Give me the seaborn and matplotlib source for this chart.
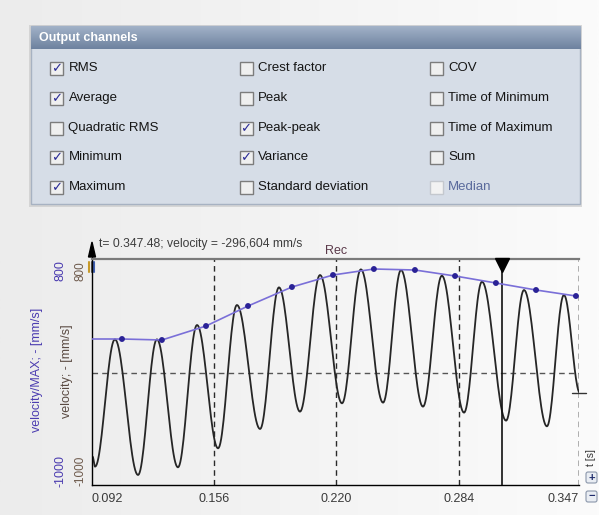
import numpy as np
import pandas as pd
import matplotlib
matplotlib.use("Agg")
import matplotlib.pyplot as plt
import matplotlib.patches as mpatches
import matplotlib.transforms as mtransforms
from matplotlib.colors import LinearSegmentedColormap
from matplotlib.ticker import FixedLocator, MultipleLocator
import seaborn as sns

# output channel checkboxes (3 columns)
col1_labels = ["RMS", "Average", "Quadratic RMS", "Minimum", "Maximum"]
col1_checked = [1, 1, 0, 1, 1]
col2_labels = ["Crest factor", "Peak", "Peak-peak", "Variance", "Standard deviation"]
col2_checked = [0, 0, 1, 1, 0]
col3_labels = ["COV", "Time of Minimum", "Time of Maximum", "Sum", "Median"]
col3_checked = [0, 0, 0, 0, 0]
col3_enabled = [1, 1, 1, 1, 0]

# velocity signal: read-off peaks / troughs (t in s, mm/s)
ext_t = [0.0923, 0.0936, 0.1040, 0.1161, 0.1260, 0.1370, 0.1470, 0.1580, 0.1679,
         0.1800, 0.1899, 0.2009, 0.2114, 0.2229, 0.2328, 0.2444, 0.2538, 0.2653,
         0.2752, 0.2868, 0.2962, 0.3088, 0.3182, 0.3302, 0.3391, 0.3475]
ext_v = [-871, -961, 185, -1036, 185, -967, 314, -796, 494, -622, 653, -466, 764,
         -391, 815, -385, 809, -421, 758, -475, 704, -547, 629, -598, 584, -297]

# velocity/MAX channel
max_t = [0.092, 0.1077, 0.1286, 0.1517, 0.1737, 0.1967, 0.2182, 0.2396, 0.2611,
         0.2821, 0.3035, 0.3245, 0.3454]
max_v = [188, 188, 179, 305, 485, 656, 764, 818, 809, 755, 692, 629, 575]

x_ticks = [0.092, 0.156, 0.220, 0.284, 0.347]
x_ticklabels = ["0.092", "0.156", "0.220", "0.284", "0.347"]
y_ticks = [-1000, 800]
cursor_t = 0.3067
cursor_v = -296.6
zero_line = -118

sns.set_style("white")
plt.rcParams["font.family"] = ["Liberation Sans", "DejaVu Sans"]

# draw the signal between the read extremes as half-cosine arcs
wt, wv = [], []
for i in range(len(ext_t) - 1):
    s = np.linspace(0, 1, 25)
    wt.extend(ext_t[i] + (ext_t[i + 1] - ext_t[i]) * s)
    wv.extend(ext_v[i] + (ext_v[i + 1] - ext_v[i]) * (1 - np.cos(np.pi * s)) / 2)
wave = pd.DataFrame({"t": wt, "v": wv})
mx = pd.DataFrame({"t": max_t, "v": max_v})

fig = plt.figure(figsize=(5.99, 5.15), dpi=100)
fig.patch.set_facecolor("#f4f4f4")

# background / panel axes in pixel coords
bg = fig.add_axes([0, 0, 1, 1], zorder=0)
cm = LinearSegmentedColormap.from_list("bgg", ["#ececec", "#fbfbfb"])
bg.imshow(np.linspace(0, 1, 200)[None, :], cmap=cm, extent=(0, 599, 515, 0), aspect="auto")
bg.set_xlim(0, 599)
bg.set_ylim(515, 0)
bg.axis("off")

# panel
bg.add_patch(mpatches.Rectangle((29, 25), 553, 182, color="#c4c4c4", alpha=0.6, lw=0))
bg.add_patch(mpatches.Rectangle((30.7, 26), 549.3, 178, facecolor="#d6dde7",
                                edgecolor="#a7b2c2", lw=1))
hcm = LinearSegmentedColormap.from_list("hdr", ["#a2b2c8", "#6e829f"])
bg.imshow(np.linspace(0, 1, 50)[:, None], cmap=hcm, extent=(30.7, 580, 49, 26),
          aspect="auto", zorder=2)
bg.set_xlim(0, 599)
bg.set_ylim(515, 0)
bg.text(39, 38, "Output channels", color="white", fontsize=9, fontweight="bold",
        va="center", zorder=3)

row_y = [68, 98, 128, 157, 187]
cols = [(50, col1_labels, col1_checked, [1] * 5),
        (239.5, col2_labels, col2_checked, [1] * 5),
        (429.5, col3_labels, col3_checked, col3_enabled)]
for bx, labels, checked, enabled in cols:
    for y, lab, c, en in zip(row_y, labels, checked, enabled):
        bg.add_patch(mpatches.Rectangle((bx, y - 6.5), 13, 13,
                                        facecolor="#efefef" if en else "#f2f2f2",
                                        edgecolor="#7c7c7c" if en else "#c4c8ce",
                                        lw=1, zorder=3))
        if c:
            bg.text(bx + 6.5, y + 0.5, "\u2713", family="DejaVu Sans", fontsize=9.5,
                    fontweight="bold", color="#2a2a96", ha="center", va="center", zorder=4)
        bg.text(bx + 18.5, y, lab, fontsize=9.5, color="#151515" if en else "#5a6a9c",
                va="center", zorder=4)

# chart axes
ax = fig.add_axes([92 / 599, 1 - 485 / 515, 487 / 599, 226 / 515], zorder=2)
ax.set_facecolor("none")

for t in x_ticks[1:]:
    ax.axvline(t, color="#2a2a2a", lw=1, ls=(0, (4, 3)), zorder=1)
ax.axhline(zero_line, color="#555555", lw=1, ls=(0, (4, 3)), zorder=1)
ax.axvline(cursor_t, color="#111111", lw=1.2, zorder=3)

sns.lineplot(data=wave, x="t", y="v", ax=ax, color="#262626", lw=1.3,
             sort=False, estimator=None, zorder=2)
sns.lineplot(data=mx, x="t", y="v", ax=ax, color="#7a6fd8", lw=1.2,
             sort=False, estimator=None, zorder=4)
sns.scatterplot(data=mx.iloc[1:], x="t", y="v", ax=ax, color="#2a2296", s=18,
                edgecolor="none", zorder=5)

ax.set_xlim(0.092, 0.347)
ax.set_ylim(-1126, 908)
ax.plot([cursor_t], [858], marker="v", ms=10, color="black", zorder=6, clip_on=False)
ax.plot([0.3433, 0.3506], [cursor_v, cursor_v], color="#333333", lw=1, clip_on=False, zorder=6)

ax.set_xticks(x_ticks)
ax.set_xticklabels(x_ticklabels, fontsize=9, color="#3a3a3a")
lbls = ax.get_xticklabels()
lbls[0].set_ha("left")
lbls[-1].set_ha("right")
ax.xaxis.set_minor_locator(FixedLocator(np.arange(0.092, 0.348, 0.0064)))
ax.tick_params(axis="x", which="major", direction="inout", length=7, width=1, pad=2)
ax.tick_params(axis="x", which="minor", direction="in", length=4, width=1)

ax.set_yticks(y_ticks)
ax.set_yticklabels([str(v) for v in y_ticks], fontsize=8.5, color="#6e5a4c", rotation=90, va="center")
ax.yaxis.set_minor_locator(MultipleLocator(60))
ax.tick_params(axis="y", which="major", direction="out", length=3.5, width=1, pad=0.5)
ax.tick_params(axis="y", which="minor", direction="out", length=2.5, width=1)
ax.set_xlabel("")
ax.set_ylabel("")

for side in ["left", "bottom"]:
    ax.spines[side].set_color("black")
    ax.spines[side].set_linewidth(1)
ax.spines["top"].set_color("#7a7a7a")
ax.spines["top"].set_linewidth(1.6)
ax.spines["right"].set_visible(False)
ax.axvline(x_ticks[-1], color="#2a2a2a", lw=1, ls=(0, (4, 3)), zorder=1)

# outer (velocity/MAX) labels
tr = mtransforms.blended_transform_factory(bg.transData, ax.transData)
for v in y_ticks:
    bg.text(60, v, str(v), transform=tr, rotation=90, fontsize=9, color="#4b3cb0",
            ha="center", va="center")
bg.text(37, 370, "velocity/MAX; - [mm/s]", rotation=90, fontsize=9, color="#4b3cb0",
        ha="center", va="center")
bg.text(67, 371, "velocity; - [mm/s]", rotation=90, fontsize=9, color="#5a4a42",
        ha="center", va="center")

# header texts and decorations
bg.text(99, 244, "t= 0.347.48; velocity = -296,604 mm/s", fontsize=8.7, color="#3d3d3d",
        va="center")
bg.text(336, 251, "Rec", fontsize=9, color="#5b3a4a", ha="center", va="center")
bg.plot([92, 92], [259, 252], color="black", lw=1)
bg.add_patch(mpatches.Polygon([(88.5, 257), (95.5, 257), (92, 242)], color="black"))
for dx, c in zip([89, 91.5, 94], ["#c79a2a", "#5a5a5a", "#3f5fb0"]):
    bg.plot([dx, dx], [262, 272], color=c, lw=1.5, zorder=5)

bg.text(591.5, 457, "t [s]", rotation=90, fontsize=7.5, color="#333333", ha="center", va="center")
for y0, sym in [(472, "+"), (491, "\u2212")]:
    bg.add_patch(mpatches.FancyBboxPatch((586, y0), 11, 11, boxstyle="round,pad=0,rounding_size=2",
                                         facecolor="#e9edf3", edgecolor="#8a96aa", lw=0.8))
    bg.text(591.5, y0 + 5.5, sym, fontsize=8, fontweight="bold", color="#1f2c6c",
            ha="center", va="center")

fig.savefig("out.png", dpi=100, facecolor=fig.get_facecolor())
